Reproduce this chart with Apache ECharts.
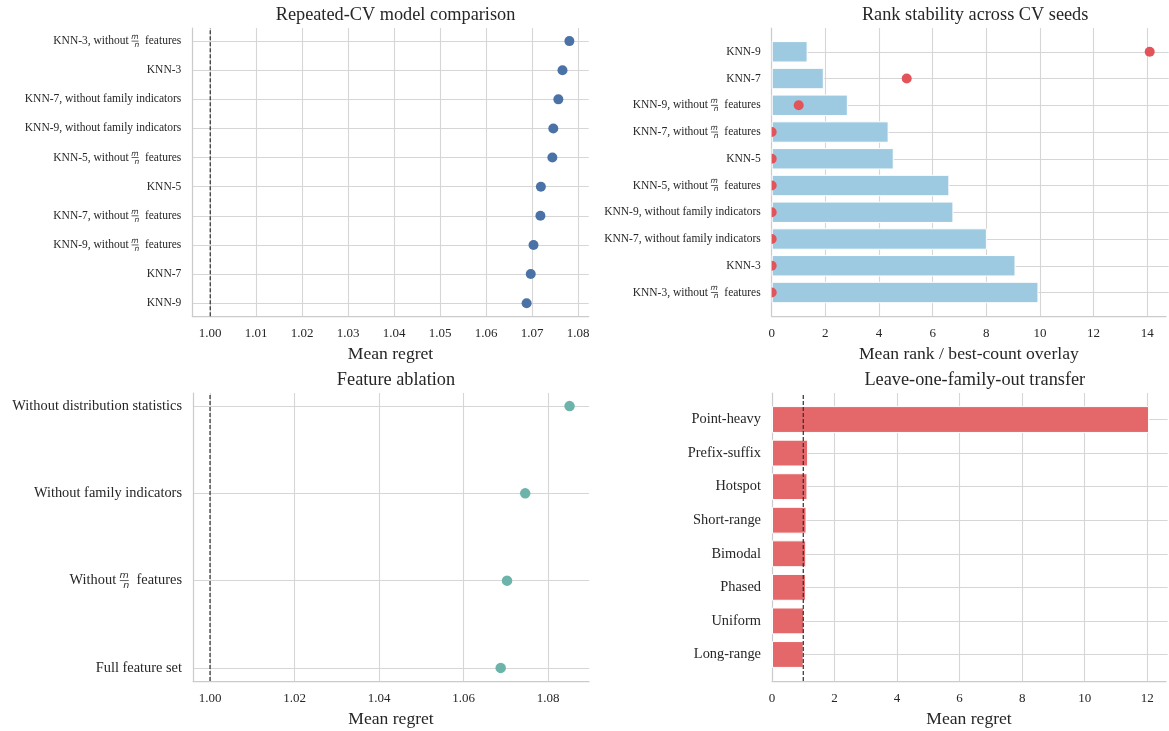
<!DOCTYPE html>
<html>
<head>
<meta charset="utf-8">
<title>KNN model comparison</title>
<script src="https://cdn.jsdelivr.net/npm/echarts@6.0.0/dist/echarts.min.js"></script>
<style>
  html, body { margin: 0; padding: 0; background: #ffffff; }
  #chart { width: 1169px; height: 731px; }
</style>
</head>
<body>
<div id="chart"></div>
<script>
// ---- data ----------------------------------------------------------------
// Repeated-CV comparison (top to bottom)
const modelNames = [
  'KNN-3, without m/n features', 'KNN-3', 'KNN-7, without family indicators',
  'KNN-9, without family indicators', 'KNN-5, without m/n features', 'KNN-5',
  'KNN-7, without m/n features', 'KNN-9, without m/n features', 'KNN-7', 'KNN-9'
];
const modelMeanRegret = [1.0781, 1.0766, 1.0757, 1.0746, 1.0744, 1.0719, 1.0718, 1.0703, 1.0697, 1.0688];

// Rank stability across CV seeds (top to bottom)
const rankModels = [
  'KNN-9', 'KNN-7', 'KNN-9, without m/n features', 'KNN-7, without m/n features', 'KNN-5',
  'KNN-5, without m/n features', 'KNN-9, without family indicators',
  'KNN-7, without family indicators', 'KNN-3', 'KNN-3, without m/n features'
];
const meanRank = [1.33, 1.93, 2.82, 4.33, 4.52, 6.58, 6.73, 7.97, 9.03, 9.88];
const bestCount = [14, 5, 1, 0, 0, 0, 0, 0, 0, 0];

// Feature ablation (top to bottom)
const ablationSets = ['Without distribution statistics', 'Without family indicators', 'Without m/n features', 'Full feature set'];
const ablationRegret = [1.0851, 1.0746, 1.0703, 1.0688];

// Leave-one-family-out transfer (top to bottom)
const families = ['Point-heavy', 'Prefix-suffix', 'Hotspot', 'Short-range', 'Bimodal', 'Phased', 'Uniform', 'Long-range'];
const familyRegret = [12.01, 1.15, 1.13, 1.10, 1.09, 1.08, 1.03, 1.01];

// oracle reference (regret = 1)
const oracleRegret = 1.0;

// ---- styling ---------------------------------------------------------------
const FONT = "'Liberation Serif', 'DejaVu Serif', serif";
const MATH_FONT = "'DejaVu Sans', sans-serif";
const INK = '#262626';
const GRID_LINE = { color: '#d6d6d6', width: 1.1 };
const SPINE = { color: '#cbcbcb', width: 1.25 };

// panel frames in px
const PANELS = {
  tl: { left: 192.3, top: 28, right: 588.7, bottom: 316.3 },
  tr: { left: 771.7, top: 28, right: 1168.6, bottom: 316.3 },
  bl: { left: 193, top: 393, right: 589, bottom: 681 },
  br: { left: 772, top: 393, right: 1167.6, bottom: 681 }
};

// stacked m/n fraction inside axis labels
function fracRich(small, barW, lh) {
  const t = { fontFamily: MATH_FONT, color: INK, lineHeight: lh };
  return {
    fb: Object.assign({}, t, { fontSize: small, width: barW, height: 0.8, backgroundColor: '#3a3a3a', verticalAlign: 'middle' }),
    fm: Object.assign({}, t, { fontSize: small, fontStyle: 'italic', width: 0, verticalAlign: 'top', padding: [0, 0.6, 0, 0] }),
    fn: Object.assign({}, t, { fontSize: small, fontStyle: 'italic', width: 0, verticalAlign: 'bottom', padding: [0, 0.6, 0, 0] })
  };
}
function fracLabel(name) {
  return name.replace('m/n ', '{fb| }{fm|m}{fn|n}\u2009 ');
}

// ---- layout helpers ---------------------------------------------------------
const grids = [], xAxes = [], yAxes = [], series = [];

function addPanel(p, cfg) {
  const f = PANELS[p];
  const frameIdx = grids.length;
  grids.push({ left: f.left, top: f.top, width: f.right - f.left, height: f.bottom - f.top, containLabel: false });
  // category rows sit inside the frame with matplotlib-style margins
  const unit = (f.bottom - f.top) / (cfg.n - 1 + 2 * cfg.pad);
  const innerTop = f.top + cfg.pad * unit;
  const innerBottom = f.bottom - cfg.pad * unit;
  grids.push({ left: f.left, top: innerTop, width: f.right - f.left, height: innerBottom - innerTop, containLabel: false });
  const iv = cfg.interval;
  xAxes.push({
    gridIndex: frameIdx, type: 'value', min: cfg.min, max: cfg.max, minInterval: iv, maxInterval: iv,
    axisLine: { show: true, onZero: false, lineStyle: SPINE },
    axisTick: { show: false },
    axisLabel: {
      margin: 11, color: INK, fontFamily: FONT, fontSize: 13,
      formatter: v => (Math.abs(v / iv - Math.round(v / iv)) > 1e-6 ? '' : cfg.fmt(v))
    },
    splitLine: { show: true, showMinLine: false, showMaxLine: false, lineStyle: GRID_LINE },
    name: cfg.xName, nameLocation: 'middle', nameGap: 29,
    nameTextStyle: { fontFamily: FONT, fontSize: 17.6, color: INK }
  });
  yAxes.push({
    gridIndex: frameIdx, type: 'value', min: 0, max: 1,
    axisLine: { show: true, lineStyle: SPINE },
    axisTick: { show: false }, axisLabel: { show: false }, splitLine: { show: false }
  });
  xAxes.push({ gridIndex: frameIdx + 1, type: 'value', min: cfg.min, max: cfg.max, show: false });
  yAxes.push({
    gridIndex: frameIdx + 1, type: 'category', data: cfg.cats, inverse: true, boundaryGap: false,
    axisLine: { show: false }, axisTick: { show: false },
    axisLabel: {
      interval: 0, margin: 11, color: INK, fontFamily: FONT, fontSize: cfg.labelSize,
      formatter: fracLabel, rich: fracRich(cfg.fracSize, cfg.fracBar, cfg.fracLH)
    },
    splitLine: { show: true, interval: 0, lineStyle: GRID_LINE }
  });
  if (cfg.refLine) {
    series.push({
      type: 'line', xAxisIndex: frameIdx, yAxisIndex: frameIdx, z: 6, silent: true,
      symbol: 'none', data: [[oracleRegret, 0], [oracleRegret, 1]],
      lineStyle: { color: '#2e2e2e', width: 1.2, type: [4, 2] }
    });
  }
  return frameIdx + 1;
}

const fmt2 = v => v.toFixed(2);
const fmt0 = v => String(Math.round(v));

// top-left: dot plot of mean regret
const gTL = addPanel('tl', {
  n: modelNames.length, pad: 0.45, cats: modelNames, min: 0.9961, max: 1.0823, interval: 0.01,
  fmt: fmt2, xName: 'Mean regret', refLine: true, labelSize: 11.5, fracSize: 7.5, fracBar: 7, fracLH: 16
});
series.push({
  type: 'scatter', xAxisIndex: gTL, yAxisIndex: gTL, symbolSize: 10, z: 4,
  itemStyle: { color: '#4a72a6', opacity: 1 },
  data: modelMeanRegret.map((v, i) => [v, i])
});

// top-right: mean rank bars with best-count overlay
const gTR = addPanel('tr', {
  n: rankModels.length, pad: 0.89, cats: rankModels, min: 0, max: 14.7, interval: 2,
  fmt: fmt0, xName: 'Mean rank / best-count overlay', refLine: false, labelSize: 11.5, fracSize: 7.5, fracBar: 7, fracLH: 16
});
series.push({
  type: 'bar', xAxisIndex: gTR, yAxisIndex: gTR, barWidth: '80%', clip: false, z: 2,
  itemStyle: { color: '#9ecae1', borderColor: '#ffffff', borderWidth: 1 },
  data: meanRank
});
series.push({
  type: 'custom', xAxisIndex: gTR, yAxisIndex: gTR, z: 5, clip: false,
  itemStyle: { color: '#e3545a' },
  data: bestCount.map((v, i) => [v, i]),
  renderItem: function (params, api) {
    const p = api.coord([api.value(0), api.value(1)]);
    const cs = params.coordSys;
    return {
      type: 'circle',
      shape: { cx: p[0], cy: p[1], r: 5 },
      style: { fill: api.visual('color') },
      clipPath: { type: 'rect', shape: { x: cs.x, y: cs.y - 40, width: cs.width + 40, height: cs.height + 80 } }
    };
  }
});

// bottom-left: feature ablation dot plot
const gBL = addPanel('bl', {
  n: ablationSets.length, pad: 0.15, cats: ablationSets, min: 0.99597, max: 1.0897, interval: 0.02,
  fmt: fmt2, xName: 'Mean regret', refLine: true, labelSize: 14.4, fracSize: 9.5, fracBar: 9, fracLH: 20
});
series.push({
  type: 'scatter', xAxisIndex: gBL, yAxisIndex: gBL, symbolSize: 10.5, z: 4,
  itemStyle: { color: '#6cb4aa', opacity: 1 },
  data: ablationRegret.map((v, i) => [v, i])
});

// bottom-right: leave-one-family-out bars
const gBR = addPanel('br', {
  n: families.length, pad: 0.79, cats: families, min: 0, max: 12.6, interval: 2,
  fmt: fmt0, xName: 'Mean regret', refLine: true, labelSize: 14.4, fracSize: 9.5, fracBar: 9, fracLH: 20
});
series.push({
  type: 'bar', xAxisIndex: gBR, yAxisIndex: gBR, barWidth: '80%', clip: false, z: 2,
  itemStyle: { color: '#e4686a', borderColor: '#ffffff', borderWidth: 1 },
  data: familyRegret
});

// panel titles
function title(p, text, top) {
  const f = PANELS[p];
  return {
    text: text, left: (f.left + f.right) / 2, top: top, textAlign: 'center',
    textStyle: { fontFamily: FONT, fontSize: 18.3, fontWeight: 'normal', color: INK }
  };
}

const chart = echarts.init(document.getElementById('chart'), null, { renderer: 'canvas' });
chart.setOption({
  animation: false,
  backgroundColor: '#ffffff',
  title: [
    title('tl', 'Repeated-CV model comparison', 1),
    title('tr', 'Rank stability across CV seeds', 1),
    title('bl', 'Feature ablation', 366),
    title('br', 'Leave-one-family-out transfer', 366)
  ],
  grid: grids,
  xAxis: xAxes,
  yAxis: yAxes,
  series: series
});
</script>
</body>
</html>
